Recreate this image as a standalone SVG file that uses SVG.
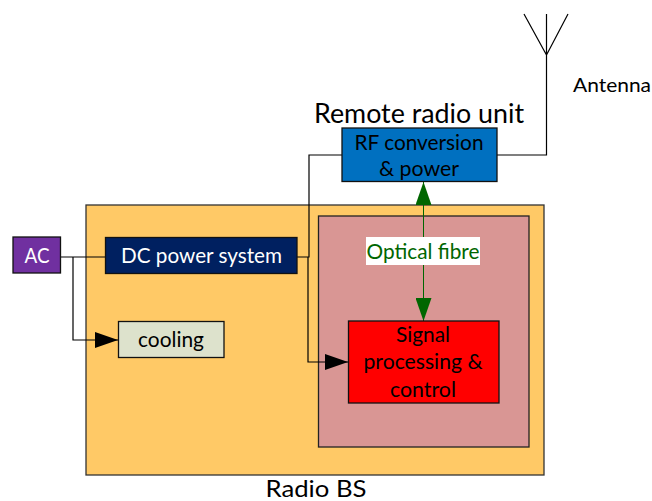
<svg xmlns="http://www.w3.org/2000/svg" width="652" height="501" viewBox="0 0 652 501">
<style>
text{font-family:"Lato","Open Sans","Liberation Sans",sans-serif;text-anchor:middle;fill:#000}
.b{stroke:#111;stroke-width:1.3}
.l{fill:none;stroke:#000;stroke-width:1.200}
</style>
<defs>
<marker id="ak" markerUnits="userSpaceOnUse" markerWidth="24" markerHeight="16" refX="23" refY="8" orient="auto"><path d="M0 0L23 8L0 16Z" fill="#000"/></marker>
<marker id="ag" markerUnits="userSpaceOnUse" markerWidth="24" markerHeight="16" refX="23" refY="8" orient="auto-start-reverse"><path d="M0 0L23 8L0 16Z" fill="#006600"/></marker>
</defs>
<g id="radio-bs"><rect x="86" y="205" width="458" height="270" fill="#ffc966" stroke="#333" stroke-width="1.300"/><text x="316" y="497" font-size="24" textLength="101" lengthAdjust="spacingAndGlyphs">Radio BS</text></g>
<g id="baseband"><rect x="318.500" y="216" width="210.500" height="231" fill="#d99694" stroke="#222" stroke-width="1.300"/></g>
<g id="connectors">
<path class="l" d="M60 257H105M297 257H309V155H342"/>
<path class="l" d="M73 257V340H118" marker-end="url(#ak)"/>
<path class="l" d="M308 257V362H348" marker-end="url(#ak)"/>
<path class="l" d="M497 155H546.500V14M524 14L546.500 55L568 14"/>
<path fill="none" stroke="#006600" stroke-width="1" d="M423.500 182V321" marker-start="url(#ag)" marker-end="url(#ag)"/>
</g>
<g id="optical-label"><rect x="366" y="237" width="114" height="28" fill="#fff"/><text x="423" y="259" font-size="21" style="fill:#006600" textLength="113" lengthAdjust="spacingAndGlyphs">Optical fibre</text></g>
<g id="ac"><rect class="b" x="13" y="237" width="47.500" height="36" fill="#7030a0"/><text x="37" y="263" font-size="22" style="fill:#fff" textLength="25" lengthAdjust="spacingAndGlyphs">AC</text></g>
<g id="dc-power"><rect class="b" x="105.500" y="237.500" width="191.500" height="36" fill="#002060"/><text x="201.500" y="263" font-size="22" style="fill:#fff" textLength="161" lengthAdjust="spacingAndGlyphs">DC power system</text></g>
<g id="cooling"><rect class="b" x="118.500" y="321.500" width="105.500" height="36" fill="#dde2cc"/><text x="171" y="347" font-size="22" textLength="66" lengthAdjust="spacingAndGlyphs">cooling</text></g>
<g id="signal"><rect class="b" x="348.500" y="321" width="150.500" height="82" fill="#ff0000"/><text x="423" y="342" font-size="22" textLength="54" lengthAdjust="spacingAndGlyphs">Signal</text><text x="423" y="369" font-size="22" textLength="119" lengthAdjust="spacingAndGlyphs">processing &amp;</text><text x="423" y="397" font-size="22" textLength="66" lengthAdjust="spacingAndGlyphs">control</text></g>
<g id="rf"><rect class="b" x="342" y="128" width="155" height="53.500" fill="#0070c0"/><text x="419" y="150" font-size="22" textLength="129" lengthAdjust="spacingAndGlyphs">RF conversion</text><text x="419" y="176" font-size="22" textLength="80" lengthAdjust="spacingAndGlyphs">&amp; power</text></g>
<text x="419" y="123" font-size="27" textLength="210" lengthAdjust="spacingAndGlyphs">Remote radio unit</text>
<text x="612" y="92" font-size="20" textLength="78" lengthAdjust="spacingAndGlyphs">Antenna</text>
</svg>
